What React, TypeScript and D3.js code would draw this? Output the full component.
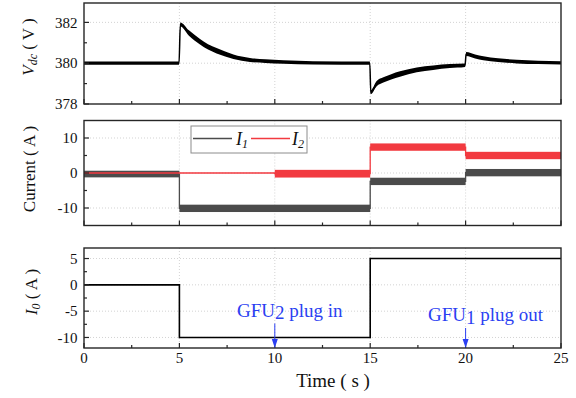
import React from "react";
import * as d3 from "d3";

// ---------- data ----------
const timeTicks = [0, 5, 10, 15, 20, 25];
const timeMinor = [2.5, 7.5, 12.5, 17.5, 22.5];

// DC bus voltage (band centre and noise half-width, V)
const vdcTime = [0, 4.98, 5.05, 5.5, 6.08, 6.5, 6.95, 7.4, 7.83, 8.7, 9.5, 10.45, 12, 14.98,
  15.03, 15.34, 15.69, 16.1, 16.56, 17.44, 18.3, 19.18, 19.97,
  20.03, 20.5, 20.93, 21.7, 22.68, 23.8, 25];
const vdcValue = [380, 380, 381.9, 381.48, 381.05, 380.8, 380.61, 380.45, 380.32, 380.16, 380.1, 380.06, 380.02, 380,
  378.58, 379.0, 379.18, 379.33, 379.47, 379.67, 379.78, 379.86, 379.9,
  380.45, 380.33, 380.24, 380.15, 380.08, 380.04, 380.02];
const vdcSpread = [0.08, 0.08, 0.1, 0.13, 0.13, 0.13, 0.13, 0.12, 0.11, 0.1, 0.09, 0.09, 0.08, 0.08,
  0.1, 0.13, 0.13, 0.13, 0.13, 0.12, 0.11, 0.1, 0.09,
  0.1, 0.1, 0.1, 0.09, 0.09, 0.08, 0.08];
const vdcTicks = [378, 380, 382];
const vdcMinor = [379, 381];

// Currents (segment start, level, noise half-width, A)
const i1Start = [0, 5, 15, 20];
const i1End = [5, 15, 20, 25];
const i1Level = [-0.3, -10.1, -2.4, 0.1];
const i1Spread = [0.95, 1.05, 1.05, 1.05];
const i2Start = [0, 10, 15, 20];
const i2End = [10, 15, 20, 25];
const i2Level = [0, -0.2, 7.4, 5.0];
const i2Spread = [0, 1.1, 1.05, 1.05];
const curTicks = [-10, 0, 10];
const curMinor = [-5, 5];

// Output current step
const i0Time = [0, 5, 5, 15, 15, 25];
const i0Value = [0, 0, -10, -10, 5, 5];
const i0Ticks = [-10, -5, 0, 5];
const i0Minor = [-7.5, -2.5, 2.5];

const events = [
  { t: 10, unit: "2", text: " plug in" },
  { t: 20, unit: "1", text: " plug out" },
];

// ---------- layout ----------
const W = 576, H = 398;
const X0 = 84, X1 = 561;
const FONT = "'Liberation Serif', 'Times New Roman', serif";
const BLUE = "#2b3ff2";
const GRAY = "#4b4b4b";
const RED = "#f23a40";

const x = d3.scaleLinear().domain([0, 25]).range([X0, X1]);
const yTop = d3.scaleLinear().domain([378, 382.95]).range([104, 3]);
const yMid = d3.scaleLinear().domain([-15, 15]).range([225.5, 120.5]);
const yBot = d3.scaleLinear().domain([-12, 7]).range([348, 248]);

function Frame({ y, ticks }: { y: d3.ScaleLinear<number, number>; ticks: number[] }) {
  const [yb, yt] = y.range();
  return (
    <g>
      {timeTicks.filter((t) => t > 0 && t < 25).map((t) => (
        <line key={"gx" + t} x1={x(t)} x2={x(t)} y1={yt} y2={yb} stroke="#c8c8c8" strokeWidth={0.8} strokeDasharray="1,2" />
      ))}
      {ticks.filter((v) => y(v) > yt + 2 && y(v) < yb - 2).map((v) => (
        <line key={"gy" + v} x1={X0} x2={X1} y1={y(v)} y2={y(v)} stroke="#c8c8c8" strokeWidth={0.8} strokeDasharray="1,2" />
      ))}
    </g>
  );
}

function Axes({ y, ticks, minor, labels }: { y: d3.ScaleLinear<number, number>; ticks: number[]; minor: number[]; labels: boolean }) {
  const [yb, yt] = y.range();
  return (
    <g>
      <rect x={X0} y={yt} width={X1 - X0} height={yb - yt} fill="none" stroke="#262626" strokeWidth={1.4} />
      {timeTicks.map((t) => (
        <line key={"tx" + t} x1={x(t)} x2={x(t)} y1={yb} y2={yb - 5} stroke="#262626" strokeWidth={1.2} />
      ))}
      {timeMinor.map((t) => (
        <line key={"mx" + t} x1={x(t)} x2={x(t)} y1={yb} y2={yb - 3} stroke="#262626" strokeWidth={1.2} />
      ))}
      {ticks.map((v) => (
        <g key={"ty" + v}>
          <line x1={X0} x2={X0 + 5} y1={y(v)} y2={y(v)} stroke="#262626" strokeWidth={1.2} />
          <text x={77.5} y={y(v)} dy="0.35em" textAnchor="end" fontSize={15} fontFamily={FONT} fill="#111">
            {v < 0 ? "-" + Math.abs(v) : v}
          </text>
        </g>
      ))}
      {minor.map((v) => (
        <line key={"my" + v} x1={X0} x2={X0 + 3} y1={y(v)} y2={y(v)} stroke="#262626" strokeWidth={1.2} />
      ))}
      {labels &&
        timeTicks.map((t) => (
          <text key={"lx" + t} x={x(t)} y={363} textAnchor="middle" fontSize={15} fontFamily={FONT} fill="#111">
            {t}
          </text>
        ))}
    </g>
  );
}

export default function App() {
  const vdcPts = vdcTime.map((t, i) => ({ t, v: vdcValue[i], s: vdcSpread[i] }));
  const vdcArea = d3
    .area<{ t: number; v: number; s: number }>()
    .x((d) => x(d.t))
    .y0((d) => yTop(d.v - d.s))
    .y1((d) => yTop(d.v + d.s))
    .curve(d3.curveMonotoneX);
  const vdcLine = d3
    .line<{ t: number; v: number; s: number }>()
    .x((d) => x(d.t))
    .y((d) => yTop(d.v))
    .curve(d3.curveMonotoneX);

  const stepLine = (starts: number[], ends: number[], levels: number[], y: d3.ScaleLinear<number, number>) => {
    const pts: [number, number][] = [];
    starts.forEach((s, i) => {
      pts.push([x(s), y(levels[i])]);
      pts.push([x(ends[i]), y(levels[i])]);
    });
    return d3.line()(pts) as string;
  };

  const bands = (starts: number[], ends: number[], levels: number[], spreads: number[], y: d3.ScaleLinear<number, number>, color: string) =>
    starts.map((s, i) =>
      spreads[i] > 0 ? (
        <rect key={color + i} x={x(s)} y={y(levels[i] + spreads[i])} width={x(ends[i]) - x(s)}
          height={y(levels[i] - spreads[i]) - y(levels[i] + spreads[i])} fill={color} />
      ) : null
    );

  const i0Path = d3.line()(i0Time.map((t, i) => [x(t), yBot(i0Value[i])] as [number, number])) as string;

  return (
    <svg width={W} height={H} style={{ position: "absolute", left: 0, top: 0, background: "#fff" }} fontFamily={FONT}>
      {/* top panel */}
      <Frame y={yTop} ticks={vdcTicks} />
      <path d={vdcArea(vdcPts) as string} fill="#000" />
      <path d={vdcLine(vdcPts) as string} fill="none" stroke="#000" strokeWidth={1.5} />
      <Axes y={yTop} ticks={vdcTicks} minor={vdcMinor} labels={false} />
      <text transform="translate(34,47) rotate(-90)" textAnchor="middle" fontSize={17} fill="#111">
        <tspan fontStyle="italic">V</tspan>
        <tspan fontStyle="italic" fontSize={12} dy={3}>dc</tspan>
        <tspan dy={-3}> ( V )</tspan>
      </text>

      {/* middle panel */}
      <Frame y={yMid} ticks={curTicks} />
      <path d={stepLine(i1Start, i1End, i1Level, yMid)} fill="none" stroke={GRAY} strokeWidth={1.3} />
      {bands(i1Start, i1End, i1Level, i1Spread, yMid, GRAY)}
      <path d={stepLine(i2Start, i2End, i2Level, yMid)} fill="none" stroke={RED} strokeWidth={1.3} />
      {bands(i2Start, i2End, i2Level, i2Spread, yMid, RED)}
      <Axes y={yMid} ticks={curTicks} minor={curMinor} labels={false} />
      <g>
        <rect x={191} y={126} width={116} height={27} fill="#fff" stroke="#8c8c8c" strokeWidth={1} />
        <line x1={193} x2={232} y1={138.5} y2={138.5} stroke={GRAY} strokeWidth={1.5} />
        <text x={236} y={145} fontSize={18} fontStyle="italic" fill="#111">
          I<tspan fontSize={12} dy={3}>1</tspan>
        </text>
        <line x1={251} x2={290} y1={138.5} y2={138.5} stroke={RED} strokeWidth={1.5} />
        <text x={292} y={145} fontSize={18} fontStyle="italic" fill="#111">
          I<tspan fontSize={12} dy={3}>2</tspan>
        </text>
      </g>
      <text transform="translate(35,169) rotate(-90)" textAnchor="middle" fontSize={17} fill="#111">
        Current ( A )
      </text>

      {/* bottom panel */}
      <Frame y={yBot} ticks={i0Ticks} />
      <path d={i0Path} fill="none" stroke="#000" strokeWidth={1.6} />
      <Axes y={yBot} ticks={i0Ticks} minor={i0Minor} labels={true} />
      <text transform="translate(37,292) rotate(-90)" textAnchor="middle" fontSize={17} fill="#111">
        <tspan fontStyle="italic">I</tspan>
        <tspan fontStyle="italic" fontSize={12} dy={3}>0</tspan>
        <tspan dy={-3}> ( A )</tspan>
      </text>
      {events.map((e, i) => {
        const ax = x(e.t);
        const baseY = i === 0 ? 316.5 : 321;
        const top = baseY + 7;
        return (
          <g key={"ev" + i}>
            <text x={i === 0 ? 237 : 428} y={baseY} fontSize={19} fill={BLUE}>
              GFU<tspan dy={2.5}>{e.unit}</tspan>
              <tspan dy={-2.5}>{e.text}</tspan>
            </text>
            <line x1={ax} x2={ax} y1={top} y2={341} stroke={BLUE} strokeWidth={1} />
            <path d={`M${ax - 3},${339} L${ax + 3},${339} L${ax},${348} Z`} fill={BLUE} />
          </g>
        );
      })}
      <text x={333} y={387} textAnchor="middle" fontSize={19} fill="#111">
        Time ( s )
      </text>
    </svg>
  );
}
